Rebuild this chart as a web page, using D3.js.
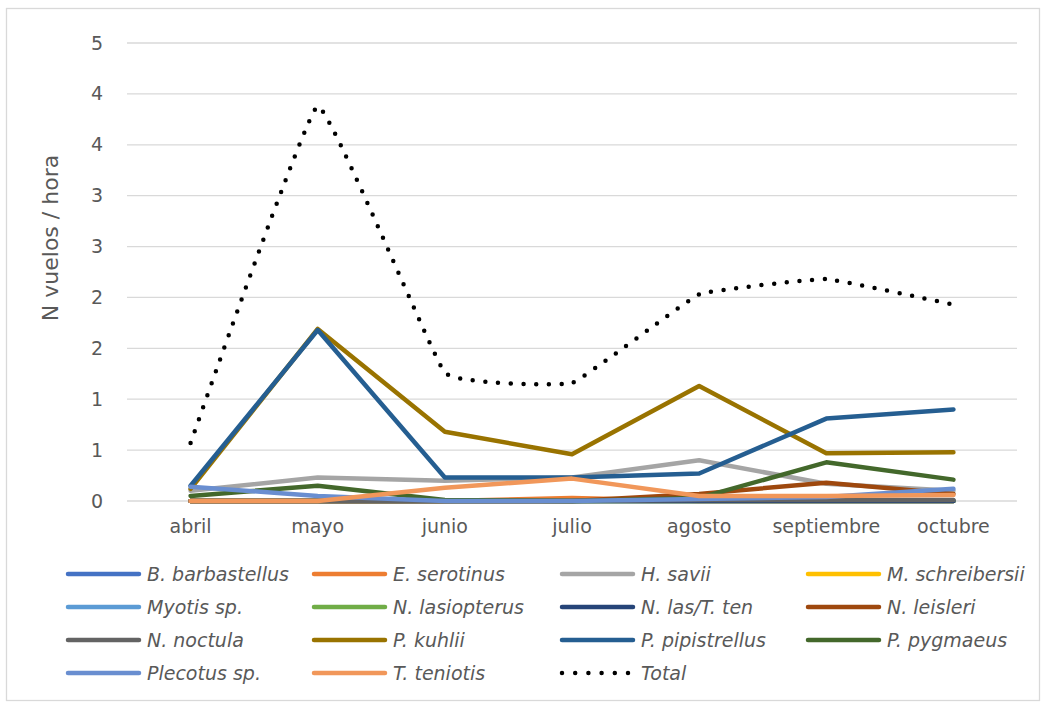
<!DOCTYPE html>
<html>
<head>
<meta charset="utf-8">
<script src="https://cdn.jsdelivr.net/npm/d3@7"></script>
<style>
  body { margin: 0; background: #fff; }
  svg { display: block; font-family: "DejaVu Sans", sans-serif; }
</style>
</head>
<body>
<div id="chart"></div>
<script>
// months on the x axis
var months = ['abril', 'mayo', 'junio', 'julio', 'agosto', 'septiembre', 'octubre']

// y tick values and the labels Excel printed (rounded to whole numbers)
var yTicks = [0, 0.5, 1, 1.5, 2, 2.5, 3, 3.5, 4, 4.5]
var yTickLabels = ['0', '1', '1', '2', '2', '3', '3', '4', '4', '5']

var speciesNames = ['B. barbastellus', 'E. serotinus', 'H. savii', 'M. schreibersii',
  'Myotis sp.', 'N. lasiopterus', 'N. las/T. ten', 'N. leisleri',
  'N. noctula', 'P. kuhlii', 'P. pipistrellus', 'P. pygmaeus',
  'Plecotus sp.', 'T. teniotis', 'Total']

var barbastellus   = [0, 0, 0, 0, 0, 0, 0]
var serotinus      = [0, 0, 0, 0.03, 0, 0, 0]
var savii          = [0.1, 0.23, 0.2, 0.23, 0.4, 0.17, 0.1]
var schreibersii   = [0, 0, 0, 0, 0, 0, 0]
var myotis         = [0, 0, 0, 0, 0, 0, 0]
var lasiopterus    = [0, 0, 0, 0, 0, 0, 0]
var lasTen         = [0, 0, 0, 0, 0, 0, 0]
var leisleri       = [0, 0, 0, 0, 0.07, 0.18, 0.07]
var noctula        = [0, 0, 0, 0, 0.01, 0.01, 0.01]
var kuhlii         = [0.12, 1.69, 0.68, 0.46, 1.13, 0.47, 0.48]
var pipistrellus   = [0.15, 1.68, 0.23, 0.23, 0.27, 0.81, 0.9]
var pygmaeus       = [0.05, 0.15, 0.01, 0, 0.03, 0.38, 0.21]
var plecotus       = [0.14, 0.05, 0, 0, 0.02, 0.04, 0.12]
var teniotis       = [0, 0, 0.13, 0.22, 0.05, 0.05, 0.06]
var total          = [0.57, 3.88, 1.26, 1.16, 2.03, 2.18, 1.93]

var seriesValues = [barbastellus, serotinus, savii, schreibersii, myotis, lasiopterus,
  lasTen, leisleri, noctula, kuhlii, pipistrellus, pygmaeus, plecotus, teniotis, total]

var colors = ['#4472C4', '#ED7D31', '#A5A5A5', '#FFC000', '#5B9BD5', '#70AD47',
  '#264478', '#9E480E', '#636363', '#997300', '#255E91', '#43682B',
  '#698ED0', '#F1975A', '#000000']

var W = 1043, H = 706
var margin = {top: 43, right: 26, bottom: 205, left: 127}

var svg = d3.select('#chart').append('svg').attr('width', W).attr('height', H)

svg.append('rect')
  .attr('x', 6.5).attr('y', 8.5).attr('width', W - 10).attr('height', H - 14)
  .attr('fill', '#fff').attr('stroke', '#D9D9D9').attr('stroke-width', 1.3)

var x = d3.scaleBand().domain(months).range([margin.left, W - margin.right])
var y = d3.scaleLinear().domain([0, 4.5]).range([H - margin.bottom, margin.top])

// gridlines
svg.append('g')
  .selectAll('line').data(yTicks).enter()
  .append('line')
  .attr('x1', margin.left).attr('x2', W - margin.right)
  .attr('y1', d => y(d)).attr('y2', d => y(d))
  .attr('stroke', '#D9D9D9').attr('stroke-width', 1.3)

// y axis labels
var yAxis = d3.axisLeft(y).tickValues(yTicks).tickSize(0).tickPadding(24)
  .tickFormat((d, i) => yTickLabels[i])
svg.append('g')
  .attr('transform', `translate(${margin.left},0)`)
  .call(yAxis)
  .call(g => g.select('.domain').remove())
  .call(g => g.selectAll('text').attr('fill', '#595959').attr('font-size', '19px')
    .attr('font-family', '"DejaVu Sans", sans-serif'))

// x axis labels
var xAxis = d3.axisBottom(x).tickSize(0).tickPadding(19)
svg.append('g')
  .attr('transform', `translate(0,${y(0)})`)
  .call(xAxis)
  .call(g => g.select('.domain').remove())
  .call(g => g.selectAll('text').attr('fill', '#595959').attr('font-size', '19px')
    .attr('font-family', '"DejaVu Sans", sans-serif'))

// y title
svg.append('text')
  .attr('transform', 'translate(58,238) rotate(-90)')
  .attr('text-anchor', 'middle')
  .attr('fill', '#595959').attr('font-size', '22px')
  .text('N vuelos / hora')

var cx = m => x(m) + x.bandwidth() / 2
var line = d3.line().x((d, i) => cx(months[i])).y(d => y(d))
var smooth = d3.line().x((d, i) => cx(months[i])).y(d => y(d)).curve(d3.curveCardinal.tension(0.75))

var plot = svg.append('g')
seriesValues.forEach((vals, k) => {
  var isTotal = speciesNames[k] == 'Total'
  plot.append('path')
    .datum(vals)
    .attr('d', isTotal ? smooth : line)
    .attr('fill', 'none')
    .attr('stroke', colors[k])
    .attr('stroke-width', 4.5)
    .attr('stroke-linejoin', 'round')
    .attr('stroke-linecap', 'round')
    .attr('stroke-dasharray', isTotal ? '0 12.7' : null)
})

// legend
var legX = [68, 314, 562, 808]
var legY = [574, 607, 640, 673]
var leg = svg.append('g')
speciesNames.forEach((name, k) => {
  var lx = legX[k % 4], ly = legY[Math.floor(k / 4)]
  var isTotal = name == 'Total'
  leg.append('line')
    .attr('x1', lx).attr('x2', lx + 71).attr('y1', ly).attr('y2', ly)
    .attr('stroke', colors[k]).attr('stroke-width', 4.5)
    .attr('stroke-linecap', 'round')
    .attr('stroke-dasharray', isTotal ? '0 13.2' : null)
  leg.append('text')
    .attr('x', lx + 79).attr('y', ly + 7)
    .attr('fill', '#595959').attr('font-size', '19px').attr('font-style', 'italic')
    .text(name)
})
</script>
</body>
</html>
